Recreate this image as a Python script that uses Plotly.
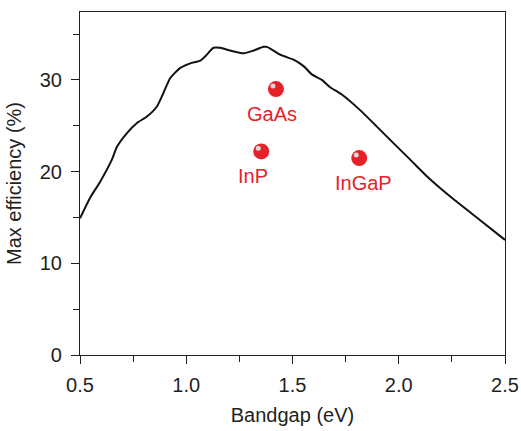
import plotly.graph_objects as go

# Max efficiency curve (Bandgap eV, %)
bandgap = [0.5, 0.549, 0.595, 0.65, 0.674, 0.721, 0.768, 0.815, 0.862, 0.893, 0.925,
           0.972, 1.019, 1.066, 1.097, 1.128, 1.16, 1.207, 1.27, 1.317, 1.364, 1.38,
           1.442, 1.505, 1.552, 1.591, 1.638, 1.677, 1.732, 1.818, 1.897, 1.975,
           2.054, 2.132, 2.257, 2.383, 2.5]
efficiency = [14.9, 17.2, 18.9, 21.3, 22.7, 24.2, 25.3, 26.0, 27.1, 28.6, 30.2,
              31.3, 31.8, 32.1, 32.75, 33.5, 33.5, 33.2, 32.9, 33.2, 33.6, 33.6,
              32.75, 32.2, 31.5, 30.6, 30.0, 29.2, 28.4, 26.7, 24.9, 23.1,
              21.3, 19.5, 17.0, 14.7, 12.55]

# Materials
materials = ["GaAs", "InP", "InGaP"]
mat_gap = [1.422, 1.353, 1.814]
mat_eff = [29.0, 22.2, 21.47]
label_shift_x = [-4, -8, 4]

x_ticks = [0.5, 1.0, 1.5, 2.0, 2.5]
y_ticks = [0, 10, 20, 30]

RED = "#e8202a"
INK = "#231f20"
FONT = "Liberation Sans, Arial, sans-serif"

fig = go.Figure()
fig.add_trace(go.Scatter(x=bandgap, y=efficiency, mode="lines",
                         line=dict(color="#111111", width=2, shape="spline", smoothing=0.6),
                         hoverinfo="skip", showlegend=False))
fig.add_trace(go.Scatter(x=mat_gap, y=mat_eff, mode="markers",
                         marker=dict(size=16, color=RED, line=dict(width=0)),
                         showlegend=False))
fig.add_trace(go.Scatter(x=[g - 0.014 for g in mat_gap], y=[e + 0.33 for e in mat_eff],
                         mode="markers",
                         marker=dict(size=5, color="#d8d8d8", line=dict(width=0)),
                         showlegend=False, hoverinfo="skip"))

for name, gx, ey, sx in zip(materials, mat_gap, mat_eff, label_shift_x):
    fig.add_annotation(x=gx, y=ey, text=name, showarrow=False,
                       xshift=sx, yshift=-25,
                       font=dict(family=FONT, size=20, color=RED))

fig.update_layout(
    width=521, height=431,
    margin=dict(l=80, r=16, t=12, b=76),
    paper_bgcolor="white", plot_bgcolor="white",
    font=dict(family=FONT, color=INK, size=20),
)
fig.update_xaxes(range=[0.5, 2.5], tickvals=x_ticks, tickformat=".1f",
                 automargin=False, ticklabelstandoff=4,
                 ticks="outside", ticklen=8, tickwidth=1.2, tickcolor=INK,
                 showline=True, linecolor=INK, linewidth=1.2, mirror=True,
                 showgrid=False, zeroline=False,
                 tickfont=dict(size=20, family=FONT, color=INK),
                 minor=dict(tickvals=[0.75, 1.25, 1.75, 2.25], ticks="outside",
                            ticklen=6, tickwidth=1.2, tickcolor=INK),
                 title=dict(text="Bandgap (eV)", font=dict(size=20, family=FONT, color=INK),
                            standoff=12))
fig.update_yaxes(range=[0, 37.4], tickvals=y_ticks,
                 automargin=False, ticklabelstandoff=5,
                 ticks="outside", ticklen=8, tickwidth=1.2, tickcolor=INK,
                 showline=True, linecolor=INK, linewidth=1.2, mirror=True,
                 showgrid=False, zeroline=False,
                 tickfont=dict(size=20, family=FONT, color=INK),
                 minor=dict(tickvals=[5, 15, 25, 35], ticks="outside",
                            ticklen=6, tickwidth=1.2, tickcolor=INK),
                 title=dict(text="Max efficiency (%)", font=dict(size=20, family=FONT, color=INK),
                            standoff=12))

fig.write_html("out.html")
